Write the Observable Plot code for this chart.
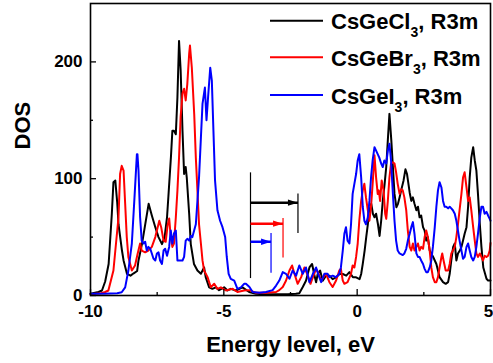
<!DOCTYPE html>
<html><head><meta charset="utf-8">
<script src="https://cdn.jsdelivr.net/npm/d3@7"></script>
<script src="https://cdn.jsdelivr.net/npm/@observablehq/plot@0.6"></script>
<style>body{margin:0;background:#fff;} #chart{position:relative;width:493px;height:363px;}</style>
</head><body><div id="chart"></div>
<script>
// Series names and colours
const seriesKeys = ["Cl", "Br", "I"];
const seriesMain = ["CsGeCl", "CsGeBr", "CsGeI"];
const seriesSuffix = ", R3m";
const colors = ["#000000", "#ff0000", "#0000ff"];

// DOS curves: [energy (eV), DOS]
const cl = [[-10.0,1.5],[-9.7,3],[-9.57,4.3],[-9.45,12],[-9.32,27],[-9.2,70],[-9.14,97],[-9.07,98.5],[-9.0,80],[-8.95,61],
[-8.82,38.5],[-8.76,30],[-8.63,18.5],[-8.5,17],[-8.38,19],[-8.25,21],[-8.2,30],[-8.07,44],[-7.94,62],[-7.82,78.5],
[-7.7,68.5],[-7.57,58.5],[-7.45,50],[-7.32,44],[-7.22,50],[-7.13,67],[-7.07,88],[-6.98,120],[-6.93,141],[-6.87,141],
[-6.8,138],[-6.74,170],[-6.68,218],[-6.62,193],[-6.55,141],[-6.49,104],[-6.43,110],[-6.39,101],[-6.3,70],[-6.24,44],
[-6.12,27],[-5.99,21.4],[-5.86,18.6],[-5.74,24],[-5.68,15.7],[-5.55,7],[-5.43,5.7],[-5.3,7],[-5.18,4.5],[-4.99,7],
[-4.86,4.3],[-4.74,5.7],[-4.55,4.3],[-4.3,7],[-4.05,3],[-3.8,1.5],[-3.5,1],[-3.2,1],[-2.9,1],[-2.6,1],
[-2.3,1.5],[-2.17,2],[-2.04,7.3],[-1.92,12.6],[-1.79,24],[-1.69,27],[-1.61,18],[-1.54,11.4],[-1.48,18.4],[-1.39,21.4],
[-1.29,12.6],[-1.17,17],[-1.04,17],[-0.92,14],[-0.79,15.6],[-0.66,18.4],[-0.54,18.4],[-0.41,17],[-0.29,20],[-0.16,15.6],
[-0.04,15.6],[0.09,14],[0.15,18.4],[0.21,27],[0.28,38.5],[0.34,50],[0.40,61],[0.46,73],[0.53,78.5],[0.59,70],
[0.65,67],[0.71,70],[0.78,61],[0.84,51],[0.90,64],[0.96,81],[1.03,95.6],[1.09,110],[1.15,133],[1.21,155.5],
[1.28,133],[1.34,110],[1.40,87],[1.47,75.6],[1.53,78.5],[1.59,84],[1.65,90],[1.74,98.5],[1.81,108],[1.87,104],
[1.97,88],[2.03,81],[2.09,84],[2.15,78.5],[2.22,73],[2.28,76],[2.34,67],[2.40,68.5],[2.47,58.5],[2.53,55.6],
[2.59,47],[2.65,50],[2.72,38.5],[2.78,36],[2.85,33],[2.91,30],[2.97,27],[3.03,21.4],[3.09,15.7],[3.22,11.4],
[3.32,10],[3.41,11.4],[3.47,18.6],[3.53,30],[3.60,41.6],[3.66,44.5],[3.72,30],[3.78,36],[3.85,38.5],[3.91,41.6],
[3.97,47],[4.03,52.8],[4.10,58.5],[4.16,76],[4.22,101],[4.28,118],[4.35,127],[4.41,115.6],[4.47,107],[4.53,87],
[4.60,61],[4.66,41.6],[4.73,24],[4.85,14.3],[4.91,12.8],[5.0,12.8]];

const br = [[-10.0,1],[-9.6,2],[-9.45,3],[-9.33,4.3],[-9.14,21.4],[-8.95,67],[-8.89,104],[-8.83,111],[-8.76,107],[-8.70,78.5],
[-8.64,50],[-8.58,33],[-8.45,21.4],[-8.33,25.7],[-8.23,36],[-8.14,44.5],[-8.08,38.5],[-7.95,37],[-7.83,38.5],[-7.70,41.6],
[-7.57,50],[-7.51,55.6],[-7.42,64],[-7.35,58.5],[-7.26,47],[-7.18,46],[-7.11,60],[-7.05,66],[-6.99,50],[-6.93,41.6],
[-6.87,44.5],[-6.80,67],[-6.74,90],[-6.68,118],[-6.62,153],[-6.55,173],[-6.49,177],[-6.43,167],[-6.37,181],[-6.30,207],
[-6.27,214],[-6.20,195],[-6.11,155],[-6.05,118],[-5.99,90],[-5.93,61],[-5.86,44.5],[-5.80,30],[-5.74,21.4],[-5.61,15.7],
[-5.49,7],[-5.36,10],[-5.24,5.7],[-5.11,7],[-4.92,4.3],[-4.67,5.7],[-4.49,3],[-4.24,4.3],[-4.04,4.6],[-3.79,2.3],
[-3.42,2.3],[-3.04,3],[-2.92,4.6],[-2.79,7.3],[-2.67,12.6],[-2.54,21.4],[-2.44,25.7],[-2.35,18.4],[-2.23,10],[-2.10,15.7],
[-1.98,24],[-1.85,17],[-1.75,10],[-1.66,15.7],[-1.54,22.8],[-1.44,18.4],[-1.35,12.6],[-1.17,18.6],[-1.04,11.4],[-0.92,7.3],
[-0.79,12.8],[-0.67,21.4],[-0.61,22.8],[-0.54,12.8],[-0.48,10],[-0.36,11.4],[-0.23,18.6],[-0.17,25.7],[-0.105,24],[-0.04,33],
[0.02,44.5],[0.08,64],[0.15,81],[0.21,90],[0.27,95.6],[0.33,84],[0.40,73],[0.46,64],[0.52,76],[0.58,95.6],
[0.65,120],[0.71,101],[0.77,87],[0.81,90],[0.86,81],[0.92,98.5],[0.99,90],[1.05,70],[1.09,65.6],[1.15,81],
[1.21,101],[1.27,113],[1.34,114],[1.40,113],[1.46,105.5],[1.52,95.6],[1.59,87],[1.65,91],[1.71,90],[1.77,84],
[1.84,73],[1.90,55.6],[1.97,41.6],[2.03,38.5],[2.09,44.5],[2.15,38.5],[2.22,41.6],[2.28,44.5],[2.34,38.5],[2.40,41.6],
[2.47,40],[2.53,50],[2.59,55.6],[2.65,50],[2.72,38.5],[2.78,24],[2.84,15.7],[2.91,11.4],[2.97,11.4],[3.03,15.7],
[3.09,24],[3.16,33],[3.19,36],[3.24,30],[3.32,21.4],[3.41,21.4],[3.47,27],[3.53,36],[3.59,38.5],[3.66,41.6],
[3.72,50],[3.78,61],[3.84,73],[3.91,87],[3.97,101],[4.03,105.5],[4.10,92.5],[4.16,81],[4.22,84],[4.28,73],
[4.35,58.5],[4.41,47],[4.47,36],[4.53,33],[4.60,36],[4.66,33],[4.72,30],[4.78,34],[4.85,33],[4.91,34],
[4.97,38.5],[5.0,45]];

const iod = [[-10.0,1.5],[-9.5,1.5],[-9.0,2],[-8.83,2.8],[-8.70,7],[-8.58,21.4],[-8.45,44.5],[-8.35,84],[-8.26,121],[-8.24,121],
[-8.20,107],[-8.14,67],[-8.08,47],[-8.01,44.5],[-7.95,46],[-7.89,38.5],[-7.83,41.6],[-7.76,40],[-7.70,36],[-7.64,31.7],
[-7.57,30],[-7.51,36],[-7.45,37],[-7.39,30],[-7.32,27],[-7.26,38.5],[-7.20,40],[-7.13,34],[-7.05,41.6],[-6.99,55.6],
[-6.93,44.5],[-6.87,53],[-6.80,55.6],[-6.74,30],[-6.68,30],[-6.55,30],[-6.49,33],[-6.43,47],[-6.37,48.5],[-6.30,47],
[-6.24,51],[-6.18,50],[-6.05,61],[-5.93,101],[-5.86,135],[-5.80,164],[-5.71,178],[-5.65,150],[-5.59,170],[-5.51,195],
[-5.45,184],[-5.39,141],[-5.33,98.5],[-5.24,73],[-5.14,64],[-5.05,58.5],[-4.95,50],[-4.89,33],[-4.82,18.6],[-4.74,14.3],
[-4.61,12.8],[-4.49,5.7],[-4.36,7],[-4.24,10],[-4.17,10],[-4.04,7.3],[-3.92,3],[-3.67,2.3],[-3.42,3],[-3.17,4.6],
[-3.04,8.5],[-2.92,12.8],[-2.79,20],[-2.67,18.6],[-2.54,14.3],[-2.42,21.4],[-2.29,17],[-2.17,25.7],[-2.04,18.6],[-1.92,24],
[-1.79,11.4],[-1.66,18.6],[-1.54,24],[-1.44,17],[-1.35,11.4],[-1.23,18.6],[-1.11,18.6],[-1.04,15.7],[-0.92,17],[-0.79,15.7],
[-0.67,18.6],[-0.61,24],[-0.54,38.5],[-0.48,52.8],[-0.42,58.5],[-0.36,47],[-0.29,44.5],[-0.23,61],[-0.17,87],[-0.105,95.6],
[-0.04,104],[0.02,115.6],[0.08,121],[0.15,101],[0.21,76],[0.27,64],[0.33,61],[0.40,67],[0.46,81],[0.52,101],
[0.58,115.6],[0.65,127],[0.71,124],[0.77,121],[0.83,118],[0.90,113],[0.96,110],[1.02,115.6],[1.09,113],[1.15,124],
[1.21,130],[1.27,115.6],[1.34,87],[1.40,64],[1.46,47],[1.52,38.5],[1.59,36],[1.71,34.6],[1.77,36],[1.84,40],
[1.90,47],[1.97,52.8],[2.03,58.5],[2.09,62.8],[2.15,52.8],[2.22,36],[2.28,33],[2.34,33],[2.40,30],[2.47,27],
[2.53,22.8],[2.59,20],[2.65,20],[2.72,24],[2.78,30],[2.84,41.6],[2.91,58.5],[2.97,76],[3.03,90],[3.09,97],
[3.16,92.5],[3.22,81],[3.28,76],[3.34,76],[3.41,74.6],[3.47,76],[3.53,74.6],[3.59,73],[3.66,70],[3.72,64],
[3.78,55.6],[3.84,47],[3.91,38.5],[3.97,31.4],[4.03,33],[4.10,41.6],[4.16,44.5],[4.22,38.5],[4.28,33],[4.35,30],
[4.41,33],[4.47,41.6],[4.53,52.8],[4.60,67],[4.66,76],[4.72,76],[4.78,70],[4.85,71.6],[4.91,68.5],[4.97,65.6],
[5.0,64]];

// Gap annotation (eV / DOS units)
const gapStart = -4.0;
const gapStartSpan = [14.5, 105];
const gapEnd = [-2.22, -2.78, -3.23];
const arrowLevel = [79.5, 61.5, 46];
const endBottom = [53, 32, 19];
const endTop = [87, 66, 53];

// Axis ticks
const xTicks = [-10, -5, 0, 5];
const xMinor = [-7.5, -2.5, 2.5];
const yTicks = [0, 100, 200];
const yMinor = [50, 150];
const xLabel = "Energy level, eV";
const yLabel = "DOS";

const rows = [];
[cl, br, iod].forEach((arr, i) => arr.forEach(([e, d]) => rows.push({series: seriesKeys[i], e, d})));
const ann = gapEnd.map((x, i) => ({series: seriesKeys[i], x0: gapStart, x, y: arrowLevel[i], lo: endBottom[i], hi: endTop[i]}));

const W = 493, H = 363, mL = 90, mR = 3, mT = 3, mB = 68;
const innerW = W - mL - mR, innerH = H - mT - mB;
const font = "'Liberation Sans', Arial, sans-serif";

const arrowHead = {draw(ctx) { ctx.moveTo(0, 0); ctx.lineTo(-10, -3.2); ctx.lineTo(-10, 3.2); ctx.closePath(); }};

const plot = Plot.plot({
  width: W, height: H, marginLeft: mL, marginRight: mR, marginTop: mT, marginBottom: mB,
  style: {fontFamily: font, fontWeight: "bold", background: "white", color: "black", overflow: "visible"},
  x: {domain: [-10, 5]},
  y: {domain: [0, 250]},
  color: {domain: seriesKeys, range: colors},
  marks: [
    Plot.line(rows, {x: "e", y: "d", z: "series", stroke: "series", strokeWidth: 2, strokeLinejoin: "round"}),
    Plot.ruleX([gapStart], {x: d => d, y1: gapStartSpan[0], y2: gapStartSpan[1], stroke: "black", strokeWidth: 1.2}),
    Plot.ruleX(ann, {x: "x", y1: "lo", y2: "hi", stroke: "series", strokeWidth: 1.2}),
    Plot.link(ann, {x1: "x0", x2: "x", y1: "y", y2: "y", stroke: "series", strokeWidth: 2.5}),
    Plot.dot(ann, {x: "x", y: "y", symbol: arrowHead, fill: "series", stroke: "none"}),
    Plot.frame({stroke: "black", strokeWidth: 1.6}),
    Plot.tickX(xTicks, {x: d => d, insetTop: innerH - 6, stroke: "black", strokeWidth: 1.3}),
    Plot.tickX(xMinor, {x: d => d, insetTop: innerH - 3, stroke: "black", strokeWidth: 1.3}),
    Plot.tickY(yTicks, {y: d => d, insetRight: innerW - 6, stroke: "black", strokeWidth: 1.3}),
    Plot.tickY(yMinor, {y: d => d, insetRight: innerW - 3, stroke: "black", strokeWidth: 1.3}),
    Plot.axisX({ticks: xTicks.slice(0, -1), tickSize: 0, tickPadding: 9, tickFormat: d => String(d), fontSize: 17, label: null}),
    Plot.axisX({ticks: xTicks.slice(-1), tickSize: 0, tickPadding: 9, tickFormat: d => String(d), fontSize: 17, label: null, dx: -2}),
    Plot.axisY({ticks: yTicks, tickSize: 0, tickPadding: 8, tickFormat: d => String(d), fontSize: 17, label: null}),
    Plot.text([xLabel], {text: d => d, frameAnchor: "bottom", dy: 56, lineAnchor: "bottom", fontSize: 22, fontWeight: "bold"}),
    Plot.text([yLabel], {text: d => d, frameAnchor: "left", dx: -68, rotate: -90, fontSize: 22, fontWeight: "bold"})
  ]
});
document.getElementById("chart").appendChild(plot);

// Legend (inside the plot, top right)
const svg = d3.select(plot);
const lg = svg.append("g").attr("font-family", font).attr("font-weight", "bold").attr("text-anchor", "start");
const legendY = [20.7, 57.3, 95];
seriesKeys.forEach((k, i) => {
  lg.append("line").attr("x1", 270).attr("x2", 323).attr("y1", legendY[i]).attr("y2", legendY[i])
    .attr("stroke", colors[i]).attr("stroke-width", 2);
  const t = lg.append("text").attr("x", 331).attr("y", legendY[i] + 8.5).attr("font-size", 22)
    .attr("fill", "black").attr("text-anchor", "start");
  t.append("tspan").text(seriesMain[i]);
  t.append("tspan").attr("font-size", 14).attr("dy", 8).text("3");
  t.append("tspan").attr("dy", -8).text(seriesSuffix);
});
</script>
</body></html>
